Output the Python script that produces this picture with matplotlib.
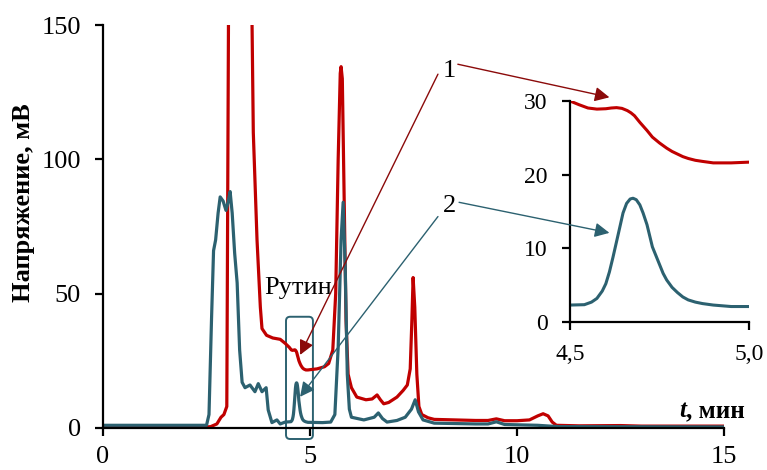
import matplotlib
matplotlib.use('Agg')
import matplotlib.pyplot as plt
from matplotlib.patches import FancyBboxPatch

plt.rcParams['font.family'] = ['Liberation Serif', 'DejaVu Serif']

# chromatogram 1 (red)
t1 = [0.0, 2.4, 2.6, 2.75, 2.85, 2.92, 2.99, 3.03, 3.3, 3.6, 3.63, 3.72, 3.8,
      3.84, 3.95, 4.1, 4.28, 4.4, 4.5, 4.525, 4.55, 4.575, 4.6, 4.615, 4.63,
      4.645, 4.66, 4.67, 4.68, 4.695, 4.715, 4.73, 4.75, 4.77, 4.785, 4.8,
      4.815, 4.83, 4.85, 4.87, 4.9, 4.95, 5.0,
      5.17, 5.35, 5.45, 5.55, 5.62, 5.68, 5.73, 5.75, 5.78, 5.83, 5.87, 5.92,
      6.0, 6.13, 6.35, 6.5, 6.62, 6.7, 6.78, 6.9, 7.1, 7.25, 7.35, 7.42, 7.46,
      7.49, 7.53, 7.58, 7.63, 7.7, 7.85, 8.0, 8.5, 9.0, 9.3, 9.5, 9.7, 10.0,
      10.3, 10.5, 10.63, 10.75, 10.85, 10.95, 11.5, 12.5, 13.0, 15.0]
u1 = [0.3, 0.3, 0.5, 1.5, 4, 5, 8, 150, 380, 150, 110, 70, 45,
      37, 34.5, 33.5, 33, 31.5, 30, 29.5, 29.05, 28.9, 28.95, 29.05, 29.1,
      29.0, 28.7, 28.4, 28.0, 27.1, 26.0, 25.1, 24.3, 23.6, 23.15, 22.8,
      22.45, 22.2, 21.95, 21.8, 21.6, 21.6, 21.7,
      22, 22.8, 24, 29, 50, 100, 132, 134.5, 130, 80, 40, 20,
      15, 11.5, 10.5, 10.8, 12.3, 10.5, 9, 9.5, 11.5, 14, 16, 22, 40,
      56, 45, 20, 8, 5, 3.8, 3.2, 3, 2.8, 2.8, 3.4, 2.7, 2.7,
      3, 4.5, 5.3, 4.5, 2.2, 1.0, 0.8, 0.9, 0.7, 0.7]

# chromatogram 2 (teal)
t2 = [0.0, 2.5, 2.56, 2.62, 2.67, 2.72, 2.78, 2.83, 2.9, 2.97, 3.02, 3.07,
      3.12, 3.18, 3.24, 3.3, 3.36, 3.43, 3.55, 3.67, 3.75, 3.84, 3.94, 3.99,
      4.08, 4.2, 4.28, 4.4, 4.5, 4.54, 4.56, 4.575, 4.59, 4.6, 4.61, 4.62,
      4.635, 4.648, 4.658, 4.668, 4.676, 4.685, 4.695, 4.704, 4.715, 4.73,
      4.74, 4.75, 4.76, 4.77, 4.785, 4.8, 4.815, 4.83, 4.85, 4.87, 4.9, 4.95,
      5.0, 5.3, 5.5, 5.6, 5.68, 5.75, 5.8, 5.85, 5.9, 5.95, 6.0, 6.3, 6.55,
      6.65, 6.75, 6.86, 7.1, 7.3, 7.45, 7.54, 7.62, 7.73, 8.0, 9.0, 9.3, 9.5,
      9.7, 10.5, 11.0, 15.0]
u2 = [1.0, 1.0, 5, 40, 66, 70, 80, 86, 84.5, 81, 84, 88,
      80, 65, 54, 29, 17, 15, 16, 13.5, 16.5, 13.5, 15, 6.7,
      2, 3, 1.5, 2.2, 2.3, 2.35, 2.7, 3.2, 4.2, 5.2, 6.8, 8.8,
      12, 14.8, 16.1, 16.7, 16.8, 16.6, 15.9, 14.8, 13.2, 10.2,
      9.0, 7.8, 6.6, 5.7, 4.7, 4.0, 3.4, 3.0, 2.7, 2.5, 2.3, 2.1,
      2.1, 2, 2.2, 5, 30, 70, 84, 60, 20, 7, 4, 3, 4,
      5.6, 3.5, 2.2, 2.8, 4, 7, 10.5, 6, 3, 1.8, 1.5, 1.5, 2.3,
      1.3, 1.0, 0.5, 0.4]

red = '#C00000'
teal = '#2C6170'
dark_red = '#8B0A0A'

fig = plt.figure(figsize=(7.67, 4.70), dpi=100)
ax = fig.add_axes([0.1343, 0.0894, 0.8097, 0.8574])
ax.plot(t1, u1, color=red, lw=2.3)
ax.plot(t2, u2, color=teal, lw=2.3)
ax.set_xlim(0, 15)
ax.set_ylim(0, 150)
ax.set_xticks([0, 5, 10, 15])
ax.set_yticks([0, 50, 100, 150])
for s in ['top', 'right']:
    ax.spines[s].set_visible(False)
for s in ['left', 'bottom']:
    ax.spines[s].set_linewidth(1.6)
ax.tick_params(direction='out', length=6, width=1.6, labelsize=19, pad=7)
ax.tick_params(axis='y', pad=10)
ax.set_ylabel('Напряжение, мВ', fontsize=19, fontweight='bold')
ax.yaxis.set_label_coords(-0.11, 0.56)

# x label: italic bold t + bold ", мин"
lab = ax.text(1.034, 0.027, ', мин', transform=ax.transAxes, ha='right',
              va='baseline', fontsize=18, fontweight='bold')
ax.annotate('t', xy=(0, 0), xycoords=lab, ha='right', va='bottom',
            fontsize=18, fontweight='bold', fontstyle='italic')

# rutin box
box = FancyBboxPatch((4.42, -4.1), 0.65, 45.5,
                     boxstyle='round,pad=0,rounding_size=0.1',
                     mutation_aspect=15.4, fill=False, ec=teal, lw=1.4,
                     clip_on=False)
ax.add_patch(box)
ax.text(4.71, 52, 'Рутин', ha='center', va='center', fontsize=19)

# labels 1 and 2 with arrows to the rutin zone
ax.text(8.36, 132.8, '1', ha='center', va='center', fontsize=19)
ax.text(8.38, 82.8, '2', ha='center', va='center', fontsize=19)
ax.annotate('', xy=(4.76, 27.2), xytext=(8.09, 131.7),
            arrowprops=dict(arrowstyle='-|>', color=dark_red, lw=1.0,
                            mutation_scale=22, shrinkA=0, shrinkB=0))
ax.annotate('', xy=(4.76, 11.6), xytext=(8.09, 78.7),
            arrowprops=dict(arrowstyle='-|>', color=teal, lw=1.0,
                            mutation_scale=22, shrinkA=0, shrinkB=0))

# inset
axins = fig.add_axes([0.7432, 0.3149, 0.2334, 0.4702])
axins.plot(t1, u1, color=red, lw=2.2)
axins.plot(t2, u2, color=teal, lw=2.2)
axins.set_xlim(4.5, 5.0)
axins.set_ylim(0, 30)
axins.set_xticks([4.5, 5.0])
axins.set_xticklabels(['4,5', '5,0'])
axins.set_yticks([0, 10, 20, 30])
for s in ['top', 'right']:
    axins.spines[s].set_visible(False)
for s in ['left', 'bottom']:
    axins.spines[s].set_linewidth(1.6)
axins.tick_params(direction='out', length=6, width=1.6, labelsize=17, pad=10)

axins.annotate('', xy=(4.61, 30.5), xycoords='data',
               xytext=(8.57, 135.4), textcoords=ax.transData,
               arrowprops=dict(arrowstyle='-|>', color=dark_red, lw=1.0,
                               mutation_scale=22, shrinkA=0, shrinkB=0),
               annotation_clip=False)
axins.annotate('', xy=(4.61, 12.1), xycoords='data',
               xytext=(8.6, 84.0), textcoords=ax.transData,
               arrowprops=dict(arrowstyle='-|>', color=teal, lw=1.0,
                               mutation_scale=22, shrinkA=0, shrinkB=0),
               annotation_clip=False)

fig.savefig('out.png', dpi=100)
